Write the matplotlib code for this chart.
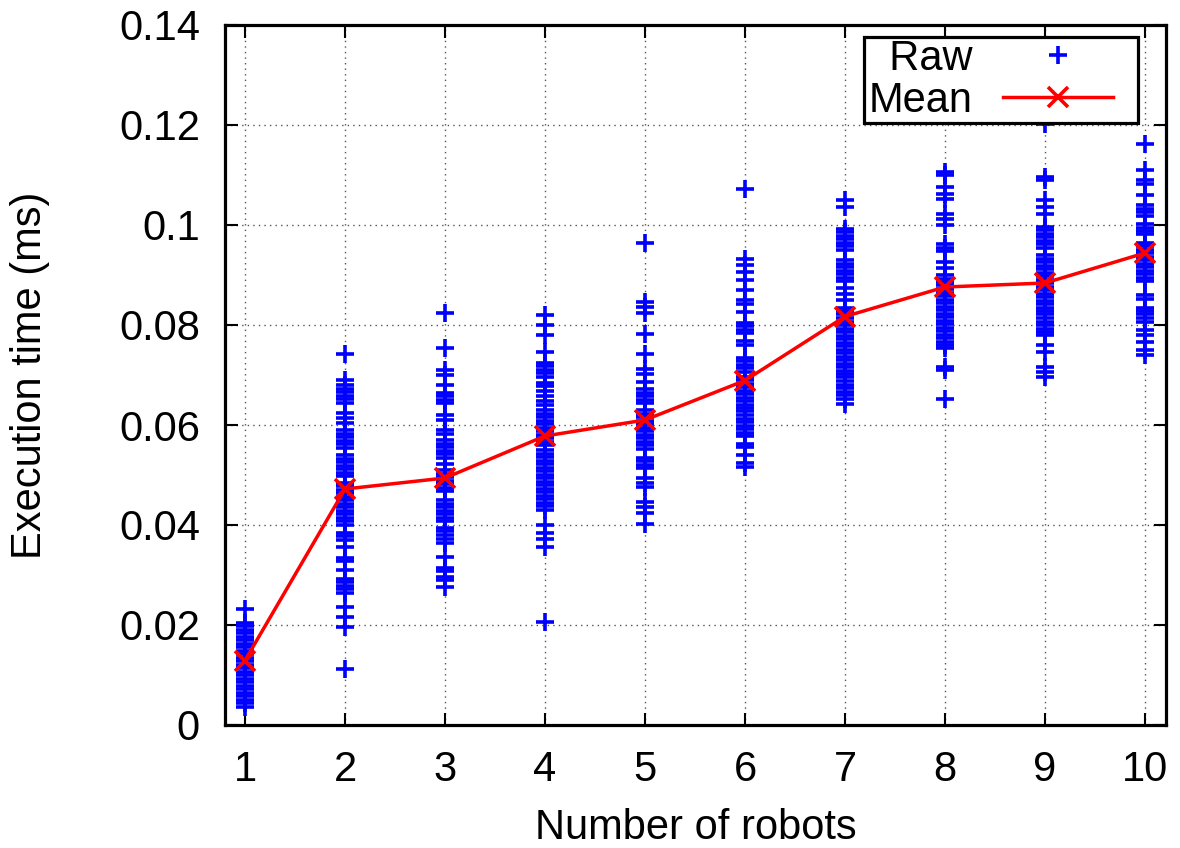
import numpy as np
import matplotlib
matplotlib.use('Agg')
import matplotlib.pyplot as plt
from matplotlib.legend_handler import HandlerLine2D

plt.rcParams['font.family'] = ['Liberation Sans', 'DejaVu Sans']

robots = [1, 2, 3, 4, 5, 6, 7, 8, 9, 10]
mean_time = [0.0129, 0.0472, 0.0494, 0.0578, 0.0610, 0.0689, 0.0817, 0.0876, 0.0884, 0.0944]

raw_1 = [0.0232, 0.0205, 0.0198, 0.0191, 0.0184, 0.0177, 0.0170, 0.0163, 0.0156, 0.0149,
         0.0142, 0.0135, 0.0128, 0.0121, 0.0114, 0.0107, 0.0100, 0.0093, 0.0086, 0.0079,
         0.0072, 0.0065, 0.0058, 0.0051, 0.0044, 0.0036]
raw_2 = [0.0742, 0.0690, 0.0680, 0.0673, 0.0666, 0.0659, 0.0652, 0.0645, 0.0625, 0.0615,
         0.0605, 0.0590, 0.0583, 0.0576, 0.0569, 0.0562, 0.0555, 0.0540, 0.0533, 0.0526,
         0.0519, 0.0512, 0.0505, 0.0498, 0.0485, 0.0478, 0.0471, 0.0464, 0.0457, 0.0450,
         0.0443, 0.0436, 0.0429, 0.0422, 0.0415, 0.0408, 0.0401, 0.0385, 0.0378, 0.0371,
         0.0357, 0.0335, 0.0328, 0.0310, 0.0293, 0.0286, 0.0279, 0.0272, 0.0265, 0.0237,
         0.0217, 0.0197, 0.0113]
raw_3 = [0.0825, 0.0753, 0.0710, 0.0700, 0.0680, 0.0665, 0.0658, 0.0651, 0.0644, 0.0620,
         0.0610, 0.0590, 0.0583, 0.0570, 0.0563, 0.0556, 0.0549, 0.0542, 0.0535, 0.0522,
         0.0510, 0.0503, 0.0496, 0.0489, 0.0482, 0.0475, 0.0468, 0.0450, 0.0443, 0.0436,
         0.0429, 0.0422, 0.0415, 0.0408, 0.0395, 0.0388, 0.0380, 0.0373, 0.0365, 0.0337,
         0.0315, 0.0308, 0.0297, 0.0290, 0.0277]
raw_4 = [0.0820, 0.0800, 0.0780, 0.0747, 0.0725, 0.0718, 0.0711, 0.0704, 0.0697, 0.0685,
         0.0678, 0.0668, 0.0658, 0.0648, 0.0640, 0.0630, 0.0623, 0.0616, 0.0609, 0.0602,
         0.0595, 0.0588, 0.0581, 0.0574, 0.0567, 0.0560, 0.0550, 0.0543, 0.0536, 0.0529,
         0.0522, 0.0515, 0.0508, 0.0501, 0.0494, 0.0487, 0.0480, 0.0473, 0.0466, 0.0459,
         0.0452, 0.0445, 0.0438, 0.0431, 0.0400, 0.0385, 0.0373, 0.0357, 0.0207]
raw_5 = [0.0965, 0.0847, 0.0837, 0.0825, 0.0783, 0.0743, 0.0713, 0.0703, 0.0687, 0.0672,
         0.0665, 0.0658, 0.0651, 0.0644, 0.0630, 0.0623, 0.0616, 0.0609, 0.0602, 0.0595,
         0.0588, 0.0581, 0.0574, 0.0567, 0.0560, 0.0553, 0.0535, 0.0528, 0.0521, 0.0514,
         0.0495, 0.0485, 0.0477, 0.0447, 0.0437, 0.0425, 0.0403]
raw_6 = [0.1073, 0.0933, 0.0920, 0.0907, 0.0890, 0.0870, 0.0850, 0.0843, 0.0827, 0.0805,
         0.0798, 0.0791, 0.0784, 0.0768, 0.0761, 0.0735, 0.0728, 0.0721, 0.0714, 0.0707,
         0.0697, 0.0690, 0.0683, 0.0676, 0.0669, 0.0662, 0.0655, 0.0648, 0.0641, 0.0634,
         0.0627, 0.0620, 0.0613, 0.0606, 0.0599, 0.0592, 0.0585, 0.0578, 0.0563, 0.0556,
         0.0540, 0.0525, 0.0517]
raw_7 = [0.1050, 0.1037, 0.0993, 0.0986, 0.0979, 0.0972, 0.0965, 0.0958, 0.0951, 0.0930,
         0.0923, 0.0916, 0.0909, 0.0902, 0.0895, 0.0888, 0.0875, 0.0862, 0.0850, 0.0835,
         0.0828, 0.0821, 0.0814, 0.0807, 0.0800, 0.0793, 0.0786, 0.0779, 0.0772, 0.0765,
         0.0758, 0.0751, 0.0744, 0.0737, 0.0730, 0.0723, 0.0716, 0.0709, 0.0702, 0.0695,
         0.0688, 0.0681, 0.0674, 0.0667, 0.0660, 0.0653, 0.0643]
raw_8 = [0.1107, 0.1100, 0.1077, 0.1063, 0.1053, 0.1023, 0.1013, 0.1000, 0.0962, 0.0955,
         0.0948, 0.0927, 0.0913, 0.0900, 0.0893, 0.0886, 0.0879, 0.0872, 0.0865, 0.0858,
         0.0851, 0.0844, 0.0837, 0.0830, 0.0823, 0.0816, 0.0809, 0.0802, 0.0795, 0.0788,
         0.0781, 0.0774, 0.0767, 0.0760, 0.0753, 0.0717, 0.0710, 0.0653]
raw_9 = [0.1203, 0.1097, 0.1090, 0.1050, 0.1037, 0.1023, 0.0997, 0.0990, 0.0983, 0.0976,
         0.0969, 0.0962, 0.0955, 0.0940, 0.0933, 0.0926, 0.0919, 0.0912, 0.0905, 0.0898,
         0.0891, 0.0884, 0.0877, 0.0870, 0.0863, 0.0856, 0.0849, 0.0842, 0.0835, 0.0828,
         0.0821, 0.0814, 0.0807, 0.0800, 0.0793, 0.0786, 0.0780, 0.0760, 0.0747, 0.0717,
         0.0707, 0.0697]
raw_10 = [0.1162, 0.1110, 0.1090, 0.1083, 0.1060, 0.1040, 0.1033, 0.1026, 0.1019, 0.1002,
          0.0995, 0.0988, 0.0981, 0.0965, 0.0958, 0.0951, 0.0944, 0.0937, 0.0930, 0.0923,
          0.0916, 0.0909, 0.0902, 0.0895, 0.0888, 0.0860, 0.0853, 0.0835, 0.0828, 0.0821,
          0.0814, 0.0807, 0.0790, 0.0780, 0.0767, 0.0750, 0.0740]
raw_all = [raw_1, raw_2, raw_3, raw_4, raw_5, raw_6, raw_7, raw_8, raw_9, raw_10]

raw_x = np.concatenate([[n] * len(v) for n, v in zip(robots, raw_all)])
raw_y = np.concatenate(raw_all)


# gnuplot-like key: sample sits a bit left of the box edge
class ShortHandle(HandlerLine2D):
    def create_artists(self, legend, orig_handle, xdescent, ydescent, width, height,
                       fontsize, trans):
        return super().create_artists(legend, orig_handle, xdescent, ydescent,
                                      width * 0.83, height, fontsize, trans)


fig = plt.figure(figsize=(11.8, 8.48), dpi=100)
ax = fig.add_axes([225 / 1180, 1 - 725 / 848, 941 / 1180, 700 / 848])

raw_line, = ax.plot(raw_x, raw_y, linestyle='none', marker='+', markersize=13.5,
                    markeredgewidth=2.6, color='#0000ff', label='  Raw', zorder=3)
mean_line, = ax.plot(robots, mean_time, color='#ff0000', linewidth=2.5, marker='x',
                     markersize=14, markeredgewidth=2.6, label='Mean', zorder=4)

ax.set_xlim(0.8, 10.21)
ax.set_ylim(0, 0.14)
ax.set_xticks(robots)
ax.set_yticks(np.arange(0, 0.141, 0.02))
ax.set_yticklabels(['0', '0.02', '0.04', '0.06', '0.08', '0.1', '0.12', '0.14'])

ax.grid(True, color='#555555', linestyle=(0, (1, 3)), linewidth=1)
ax.set_axisbelow(True)
for s in ax.spines.values():
    s.set_linewidth(2.3)
ax.tick_params(direction='in', length=9, width=1.5, top=True, right=True, labelsize=30)
ax.tick_params(axis='x', pad=18)
ax.tick_params(axis='y', pad=18)

ax.set_xlabel('Number of robots', fontsize=30, labelpad=13)
ax.set_ylabel('Execution time (ms)', fontsize=30, labelpad=50)

leg = ax.legend(handles=[raw_line, mean_line], loc='upper right',
                bbox_to_anchor=(0.970, 0.983), markerfirst=False, fontsize=30,
                frameon=True, fancybox=False, edgecolor='black', borderaxespad=0,
                borderpad=0.05, labelspacing=0.05, handlelength=3.19, handletextpad=0.72,
                handler_map={raw_line: ShortHandle(), mean_line: ShortHandle()})
leg.get_frame().set_linewidth(2.3)
leg.get_frame().set_alpha(1)

fig.savefig('out.png', dpi=100)
